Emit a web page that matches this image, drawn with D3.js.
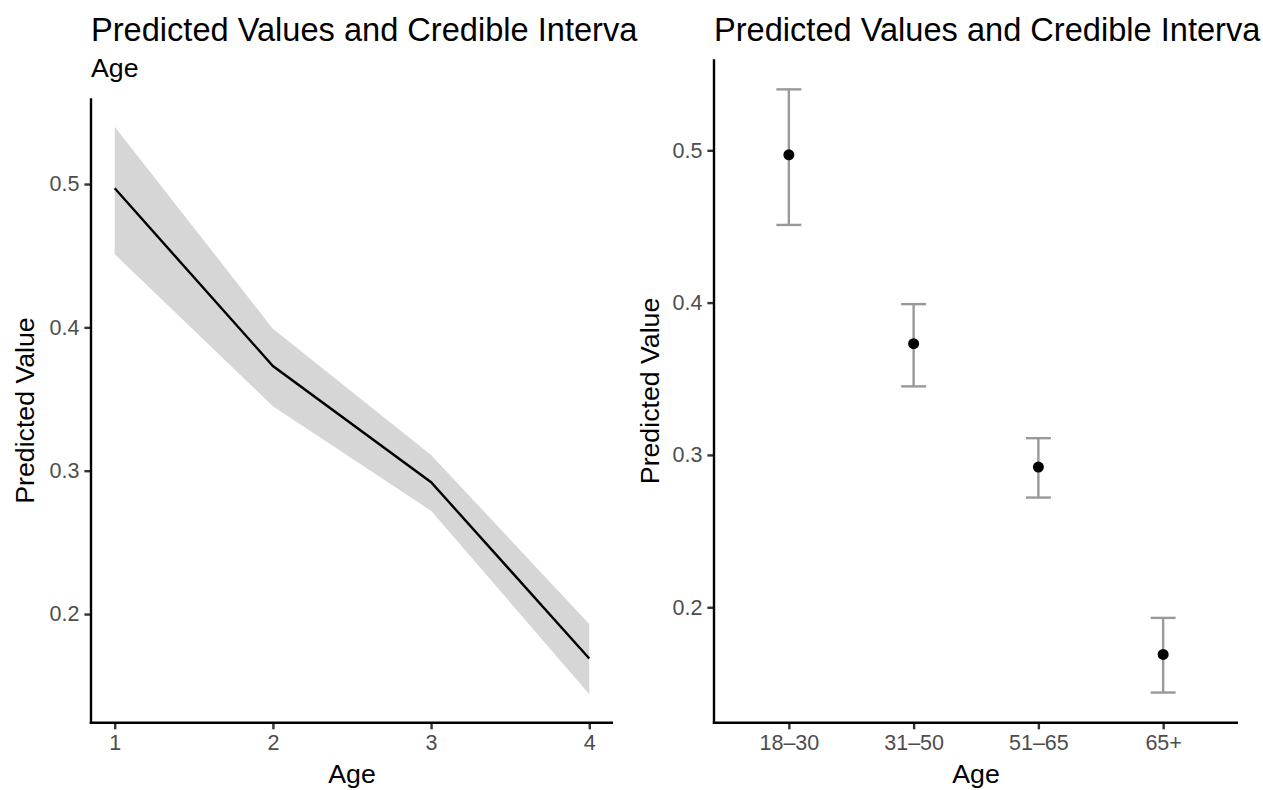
<!DOCTYPE html>
<html>
<head>
<meta charset="utf-8">
<script src="https://cdn.jsdelivr.net/npm/d3@7"></script>
<style>
  body { margin: 0; background: #fff; }
  svg { display: block; font-family: "Liberation Sans", Arial, Helvetica, sans-serif; }
</style>
</head>
<body>
<svg class="chart" width="1263" height="790"></svg>
<script>
// data
const ageNum = [1, 2, 3, 4];
const ageLabels = ["18–30", "31–50", "51–65", "65+"];
const predicted = [0.497, 0.373, 0.292, 0.169];
const lower = [0.451, 0.345, 0.272, 0.144];
const upper = [0.540, 0.399, 0.311, 0.193];
const yTicks = [0.2, 0.3, 0.4, 0.5];
// the title is cut off by the panel edge in the reference
const titleText = "Predicted Values and Credible Interva";
const subtitleText = "Age";
const xTitle = "Age";
const yTitle = "Predicted Value";

let rows = ageNum.map((a, i) => ({
  num: a, label: ageLabels[i], fit: predicted[i], lo: lower[i], hi: upper[i]
}));

// sizes
let tickFont = 21.5, axisTitleFont = 26.7, titleFont = 32.6;
let lineW = 2.4;
let tickLen = 6.6;

let svg = d3.select('svg.chart');

// y domain = data range + 5% each side (like ggplot)
let yMin = d3.min(lower), yMax = d3.max(upper);
let yPad = (yMax - yMin) * 0.05;
let yDomain = [yMin - yPad, yMax + yPad];

function drawFrame(g, x, y, xAxis, yTitleX) {
  let [x0, x1] = x.range();
  let [yb, yt] = y.range();

  // y axis
  let ya = g.append('g')
    .attr('transform', `translate(${x0},0)`)
    .call(d3.axisLeft(y).tickValues(yTicks).tickFormat(d3.format('.1f'))
      .tickSize(tickLen).tickPadding(5));
  ya.select('.domain').remove();
  ya.append('line')
    .attr('x1', 0).attr('x2', 0).attr('y1', yt).attr('y2', yb + lineW / 2)
    .attr('stroke', 'black').attr('stroke-width', lineW);

  // x axis
  let xa = g.append('g')
    .attr('transform', `translate(0,${yb})`)
    .call(xAxis.tickSize(tickLen).tickPadding(5));
  xa.select('.domain').remove();
  xa.append('line')
    .attr('x1', x0 - lineW / 2).attr('x2', x1).attr('y1', 0).attr('y2', 0)
    .attr('stroke', 'black').attr('stroke-width', lineW);

  g.selectAll('.tick line').attr('stroke', '#333333').attr('stroke-width', lineW);
  g.selectAll('.tick text')
    .attr('fill', '#4d4d4d')
    .style('font-size', tickFont + 'px')
    .style('font-family', '"Liberation Sans", Arial, sans-serif');

  // axis titles
  g.append('text')
    .attr('x', (x0 + x1) / 2).attr('y', 783)
    .attr('text-anchor', 'middle')
    .style('font-size', axisTitleFont + 'px')
    .text(xTitle);

  g.append('text')
    .attr('transform', `translate(${yTitleX},${(yb + yt) / 2}) rotate(-90)`)
    .attr('text-anchor', 'middle')
    .style('font-size', axisTitleFont + 'px')
    .text(yTitle);
}

// ---------- left panel: line + ribbon ----------
let left = svg.append('g');
let xL = d3.scaleLinear().domain([1 - 0.15, 4 + 0.15]).range([91, 613]);
let yL = d3.scaleLinear().domain(yDomain).range([722.7, 98.3]);

left.append('path')
  .datum(rows)
  .attr('d', d3.area().x(d => xL(d.num)).y0(d => yL(d.lo)).y1(d => yL(d.hi)))
  .attr('fill', '#d6d6d6');

left.append('path')
  .datum(rows)
  .attr('d', d3.line().x(d => xL(d.num)).y(d => yL(d.fit)))
  .attr('fill', 'none')
  .attr('stroke', 'black')
  .attr('stroke-width', lineW);

drawFrame(left, xL, yL,
  d3.axisBottom(xL).tickValues(ageNum).tickFormat(d3.format('d')), 34);

left.append('text')
  .attr('x', 91).attr('y', 41)
  .style('font-size', titleFont + 'px')
  .text(titleText);

left.append('text')
  .attr('x', 91).attr('y', 77)
  .style('font-size', axisTitleFont + 'px')
  .text(subtitleText);

// ---------- right panel: points + error bars ----------
let right = svg.append('g');
let xR = d3.scalePoint().domain(ageLabels).range([714, 1238]).padding(0.6);
let yR = d3.scaleLinear().domain(yDomain).range([722.7, 59.2]);
let capW = xR.step() * 0.2;

let bars = right.selectAll('g.errbar')
  .data(rows)
  .enter()
  .append('g')
  .classed('errbar', true)
  .attr('stroke', '#999999')
  .attr('stroke-width', lineW);

bars.append('line')
  .attr('x1', d => xR(d.label)).attr('x2', d => xR(d.label))
  .attr('y1', d => yR(d.lo)).attr('y2', d => yR(d.hi));
bars.append('line')
  .attr('x1', d => xR(d.label) - capW / 2).attr('x2', d => xR(d.label) + capW / 2)
  .attr('y1', d => yR(d.hi)).attr('y2', d => yR(d.hi));
bars.append('line')
  .attr('x1', d => xR(d.label) - capW / 2).attr('x2', d => xR(d.label) + capW / 2)
  .attr('y1', d => yR(d.lo)).attr('y2', d => yR(d.lo));

right.selectAll('circle')
  .data(rows)
  .enter()
  .append('circle')
  .attr('cx', d => xR(d.label))
  .attr('cy', d => yR(d.fit))
  .attr('r', 5.5)
  .style('fill', 'black');

drawFrame(right, xR, yR, d3.axisBottom(xR), 659);

right.append('text')
  .attr('x', 714).attr('y', 41)
  .style('font-size', titleFont + 'px')
  .text(titleText);
</script>
</body>
</html>
